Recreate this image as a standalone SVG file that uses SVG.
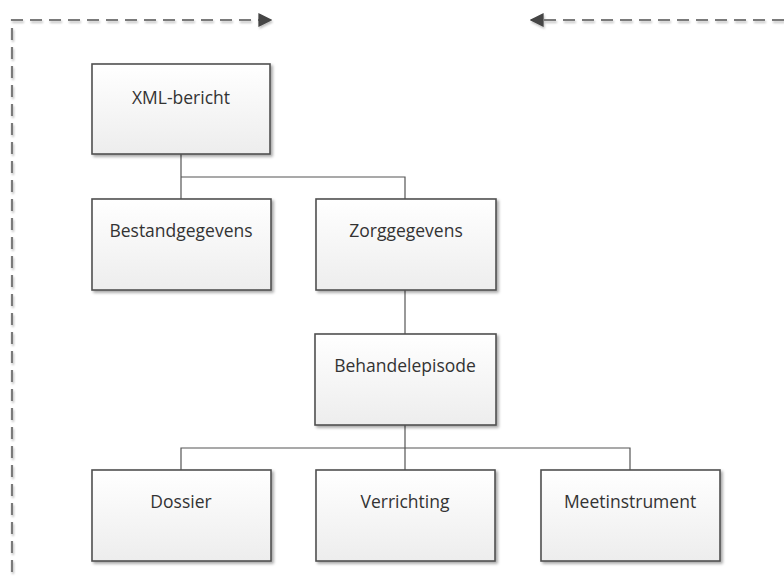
<svg xmlns="http://www.w3.org/2000/svg" width="784" height="581" viewBox="0 0 784 581">
<style>
.box{fill:url(#g);stroke:#505050;stroke-width:1.6;filter:url(#sh)}
.lbl{font-family:"Open Sans","Liberation Sans",sans-serif;font-size:17.5px;fill:#333;text-anchor:middle}
.con{fill:none;stroke:#555;stroke-width:1.2}
.dash{fill:none;stroke:#7a7a7a;stroke-width:2.2;stroke-dasharray:12 7;filter:url(#sh2)}
</style>
<defs>
<linearGradient id="g" x1="0" y1="0" x2="0" y2="1">
<stop offset="0" stop-color="#ffffff"/>
<stop offset="1" stop-color="#ededed"/>
</linearGradient>
<filter id="sh" x="-10%" y="-10%" width="130%" height="130%">
<feGaussianBlur in="SourceAlpha" stdDeviation="1.5"/>
<feOffset dx="2" dy="2"/>
<feComponentTransfer><feFuncA type="linear" slope="0.35"/></feComponentTransfer>
<feMerge><feMergeNode/><feMergeNode in="SourceGraphic"/></feMerge>
</filter>
<filter id="sh2" filterUnits="userSpaceOnUse" x="0" y="0" width="784" height="581">
<feGaussianBlur in="SourceAlpha" stdDeviation="1"/>
<feOffset dx="1" dy="2"/>
<feComponentTransfer><feFuncA type="linear" slope="0.25"/></feComponentTransfer>
<feMerge><feMergeNode/><feMergeNode in="SourceGraphic"/></feMerge>
</filter>
<marker id="ah2" viewBox="0 0 10 10" refX="9" refY="5" markerWidth="14" markerHeight="14" orient="auto" markerUnits="userSpaceOnUse">
<path d="M0,0 L10,5 L0,10 z" fill="#444"/>
</marker>
</defs>
<g id="connectors">
<path class="con" d="M181,154 V177 H405 V199 M181,177 V199"/>
<path class="con" d="M405,290 V334"/>
<path class="con" d="M405,425 V470 M181,470 V448 H630 V470"/>
<path class="dash" d="M12,572 V20 H271" marker-end="url(#ah2)"/>
<path class="dash" d="M784,20 H531" marker-end="url(#ah2)"/>
</g>
<g id="xml"><rect class="box" x="92" y="64" width="178" height="90"/><text class="lbl" x="181" y="104">XML-bericht</text></g>
<g id="bestand"><rect class="box" x="92" y="199" width="179" height="91"/><text class="lbl" x="181" y="237">Bestandgegevens</text></g>
<g id="zorg"><rect class="box" x="316" y="199" width="180" height="91"/><text class="lbl" x="406" y="237">Zorggegevens</text></g>
<g id="behandel"><rect class="box" x="315" y="334" width="181" height="91"/><text class="lbl" x="405" y="372">Behandelepisode</text></g>
<g id="dossier"><rect class="box" x="92" y="470" width="179" height="91"/><text class="lbl" x="181" y="508">Dossier</text></g>
<g id="verrichting"><rect class="box" x="316" y="470" width="179" height="91"/><text class="lbl" x="405" y="508">Verrichting</text></g>
<g id="meet"><rect class="box" x="541" y="470" width="179" height="91"/><text class="lbl" x="630" y="508">Meetinstrument</text></g>
</svg>
